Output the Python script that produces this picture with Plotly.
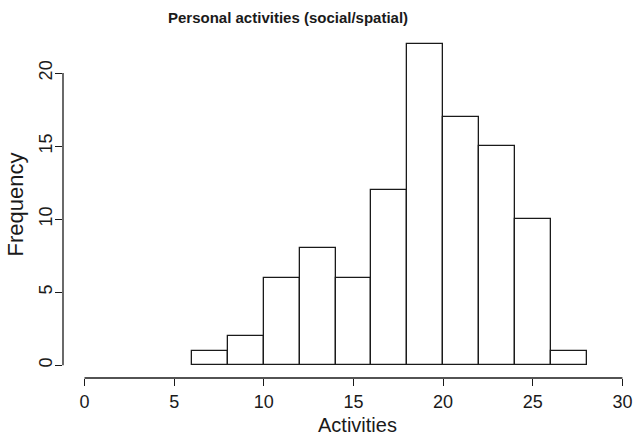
import plotly.graph_objects as go

# Histogram of activity counts (bin width 2)
bin_starts = [6, 8, 10, 12, 14, 16, 18, 20, 22, 24, 26]
counts = [1, 2, 6, 8, 6, 12, 22, 17, 15, 10, 1]
bin_width = 2
x_ticks = [0, 5, 10, 15, 20, 25, 30]
y_ticks = [0, 5, 10, 15, 20]

W, H = 633, 439
ML, MR, MT, MB = 63, 0, 31, 61
x_range = [-1.2, 30.59]
y_range = [-0.88, 22.88]

font_family = "Liberation Sans, Arial, Helvetica, sans-serif"

fig = go.Figure()
fig.add_trace(go.Bar(
    x=[s + bin_width / 2 for s in bin_starts],
    y=counts,
    width=bin_width,
    marker=dict(color="white", line=dict(color="#1a1a1a", width=1.3)),
    showlegend=False,
    hoverinfo="skip",
))

# R-style axis lines spanning only the tick range
fig.add_shape(type="line", xref="x", yref="paper", x0=x_ticks[0], x1=x_ticks[-1],
              y0=0, y1=0, line=dict(color="#1a1a1a", width=1.3))
fig.add_shape(type="line", xref="paper", yref="y", x0=0, x1=0,
              y0=y_ticks[0], y1=y_ticks[-1], line=dict(color="#1a1a1a", width=1.3))

pw = W - ML - MR
fig.update_layout(
    width=W, height=H,
    margin=dict(l=ML, r=MR, t=MT, b=MB),
    plot_bgcolor="white", paper_bgcolor="white",
    font=dict(family=font_family, size=18, color="#1a1a1a"),
    bargap=0,
    xaxis=dict(range=x_range, tickvals=x_ticks, ticks="outside", ticklen=7,
               tickwidth=1.3, tickcolor="#1a1a1a", showline=False, showgrid=False,
               zeroline=False),
    yaxis=dict(range=y_range, tickvals=y_ticks, ticks="outside", ticklen=7,
               tickwidth=1.3, tickcolor="#1a1a1a", showline=False, showgrid=False,
               zeroline=False, tickangle=-90, ticklabelstandoff=-4,
               title=dict(text="Frequency", standoff=6)),
    annotations=[
        dict(text="<b>Personal activities (social/spatial)</b>",
             xref="paper", yref="paper", x=(288 - ML) / pw,
             y=1, yshift=3, yanchor="bottom", showarrow=False,
             font=dict(size=15, family=font_family)),
        dict(text="Activities", xref="paper", yref="paper", x=(357 - ML) / pw,
             y=0, yshift=-47, yanchor="middle", showarrow=False,
             font=dict(size=20, family=font_family, color="#1a1a1a")),
    ],
)

fig.write_html("out.html")
